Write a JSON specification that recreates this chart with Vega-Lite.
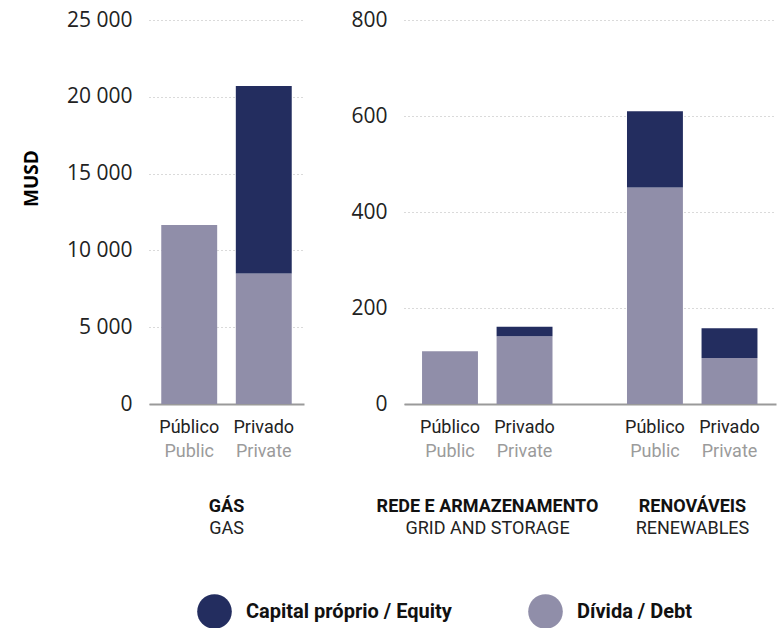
{
  "$schema": "https://vega.github.io/schema/vega-lite/v6.json",
  "background": "white",
  "padding": {"left": 22, "top": 9, "right": 5, "bottom": 0},
  "spacing": 46,
  "config": {
    "view": {"stroke": null},
    "font": "Roboto",
    "axis": {"ticks": false, "domain": false, "grid": false, "labelLimit": 0},
    "legend": {"orient": "none", "labelLimit": 0}
  },
  "datasets": {
    "d": [
      {"sector": "GÁS", "own": "Público", "own_en": "Public", "type": "Dívida / Debt", "value": 11650},
      {"sector": "GÁS", "own": "Privado", "own_en": "Private", "type": "Dívida / Debt", "value": 8500},
      {"sector": "GÁS", "own": "Privado", "own_en": "Private", "type": "Capital próprio / Equity", "value": 12200},
      {"sector": "REDE E ARMAZENAMENTO", "own": "Público", "own_en": "Public", "type": "Dívida / Debt", "value": 110},
      {"sector": "REDE E ARMAZENAMENTO", "own": "Privado", "own_en": "Private", "type": "Dívida / Debt", "value": 141},
      {"sector": "REDE E ARMAZENAMENTO", "own": "Privado", "own_en": "Private", "type": "Capital próprio / Equity", "value": 20},
      {"sector": "RENOVÁVEIS", "own": "Público", "own_en": "Public", "type": "Dívida / Debt", "value": 451},
      {"sector": "RENOVÁVEIS", "own": "Público", "own_en": "Public", "type": "Capital próprio / Equity", "value": 159},
      {"sector": "RENOVÁVEIS", "own": "Privado", "own_en": "Private", "type": "Dívida / Debt", "value": 96},
      {"sector": "RENOVÁVEIS", "own": "Privado", "own_en": "Private", "type": "Capital próprio / Equity", "value": 62}
    ]
  },
  "hconcat": [
    {
      "width": 155,
      "height": 384,
      "data": {"name": "d"},
      "transform": [{"filter": "datum.sector === 'GÁS'"}],
      "resolve": {"axis": {"x": "independent"}},
      "layer": [
        {
          "mark": {"type": "bar"},
          "encoding": {
            "x": {
              "field": "sector", "type": "nominal", "title": null,
              "scale": {"paddingInner": 0, "paddingOuter": 0.094},
              "axis": {"orient": "bottom", "domain": true, "domainColor": "#9a9a9a", "domainWidth": 2, "labelAngle": 0, "labelFont": "Roboto", "labelFontSize": 18, "labelFontWeight": "bold", "labelColor": "#111", "labelBaseline": "alphabetic", "labelPadding": 107}
            },
            "xOffset": {"field": "own", "type": "nominal", "sort": ["Público", "Privado"], "scale": {"paddingInner": 0.25, "paddingOuter": 0}},
            "y": {
              "field": "value", "type": "quantitative", "stack": "zero",
              "scale": {"domain": [0, 25000], "nice": false},
              "axis": {"values": [0, 5000, 10000, 15000, 20000, 25000], "grid": true, "gridDash": [1, 3], "gridColor": "#b5b5b5", "gridWidth": 1, "labelFont": "Open Sans", "labelFontSize": 21, "labelColor": "#222", "labelPadding": 17, "labelExpr": "replace(format(datum.value, ','), ',', ' ')", "title": "MUSD", "titleFont": "Open Sans", "titleFontSize": 19, "titleFontWeight": "bold", "titleColor": "#000", "titleX": -108, "titleY": 158}
            },
            "color": {
              "field": "type", "type": "nominal",
              "scale": {"domain": ["Capital próprio / Equity", "Dívida / Debt"], "range": ["#232d5f", "#908ea9"]},
              "legend": {"title": null, "direction": "horizontal", "legendX": 48, "legendY": 574, "symbolType": "circle", "symbolSize": 1200, "symbolStrokeWidth": 0, "symbolOpacity": 1, "labelFont": "Roboto", "labelFontSize": 20, "labelFontWeight": "bold", "labelColor": "#111", "labelOffset": 14, "columnPadding": 76}
            },
            "order": {"field": "type", "sort": "descending"}
          }
        },
        {
          "transform": [{"filter": "datum.type === 'Dívida / Debt'"}],
          "mark": {"type": "text", "baseline": "alphabetic", "dy": 29, "fontSize": 18, "font": "Roboto", "color": "#222"},
          "encoding": {
            "x": {
              "field": "sector", "type": "nominal", "title": null,
              "axis": {"orient": "bottom", "labelAngle": 0, "labelFont": "Roboto", "labelFontSize": 18, "labelColor": "#222", "labelBaseline": "alphabetic", "labelPadding": 129, "labelExpr": "datum.value === 'GÁS' ? 'GAS' : datum.value === 'RENOVÁVEIS' ? 'RENEWABLES' : 'GRID AND STORAGE'"}
            },
            "xOffset": {"field": "own", "type": "nominal", "sort": ["Público", "Privado"]},
            "y": {"datum": 0},
            "text": {"field": "own"}
          }
        },
        {
          "transform": [{"filter": "datum.type === 'Dívida / Debt'"}],
          "mark": {"type": "text", "baseline": "alphabetic", "dy": 53, "fontSize": 18, "font": "Roboto", "color": "#9b9b9b"},
          "encoding": {
            "x": {"field": "sector", "type": "nominal", "axis": null},
            "xOffset": {"field": "own", "type": "nominal", "sort": ["Público", "Privado"]},
            "y": {"datum": 0},
            "text": {"field": "own_en"}
          }
        }
      ]
    },
    {
      "width": 372,
      "height": 384,
      "data": {"name": "d"},
      "transform": [{"filter": "datum.sector !== 'GÁS'"}],
      "resolve": {"axis": {"x": "independent"}},
      "layer": [
        {
          "mark": {"type": "bar"},
          "encoding": {
            "x": {
              "field": "sector", "type": "nominal", "title": null,
              "sort": ["REDE E ARMAZENAMENTO", "RENOVÁVEIS"],
              "scale": {"paddingInner": 0.361, "paddingOuter": 0.088},
              "axis": {"orient": "bottom", "domain": true, "domainColor": "#9a9a9a", "domainWidth": 2, "labelAngle": 0, "labelFont": "Roboto", "labelFontSize": 18, "labelFontWeight": "bold", "labelColor": "#111", "labelBaseline": "alphabetic", "labelPadding": 107}
            },
            "xOffset": {"field": "own", "type": "nominal", "sort": ["Público", "Privado"], "scale": {"paddingInner": 0.25, "paddingOuter": 0}},
            "y": {
              "field": "value", "type": "quantitative", "stack": "zero",
              "scale": {"domain": [0, 800], "nice": false},
              "axis": {"values": [0, 200, 400, 600, 800], "grid": true, "gridDash": [1, 3], "gridColor": "#b5b5b5", "gridWidth": 1, "labelFont": "Open Sans", "labelFontSize": 21, "labelColor": "#222", "labelPadding": 17, "title": null}
            },
            "color": {
              "field": "type", "type": "nominal",
              "scale": {"domain": ["Capital próprio / Equity", "Dívida / Debt"], "range": ["#232d5f", "#908ea9"]}
            },
            "order": {"field": "type", "sort": "descending"}
          }
        },
        {
          "transform": [{"filter": "datum.type === 'Dívida / Debt'"}],
          "mark": {"type": "text", "baseline": "alphabetic", "dy": 29, "fontSize": 18, "font": "Roboto", "color": "#222"},
          "encoding": {
            "x": {
              "field": "sector", "type": "nominal", "title": null,
              "sort": ["REDE E ARMAZENAMENTO", "RENOVÁVEIS"],
              "axis": {"orient": "bottom", "labelAngle": 0, "labelFont": "Roboto", "labelFontSize": 18, "labelColor": "#222", "labelBaseline": "alphabetic", "labelPadding": 129, "labelExpr": "datum.value === 'GÁS' ? 'GAS' : datum.value === 'RENOVÁVEIS' ? 'RENEWABLES' : 'GRID AND STORAGE'"}
            },
            "xOffset": {"field": "own", "type": "nominal", "sort": ["Público", "Privado"]},
            "y": {"datum": 0},
            "text": {"field": "own"}
          }
        },
        {
          "transform": [{"filter": "datum.type === 'Dívida / Debt'"}],
          "mark": {"type": "text", "baseline": "alphabetic", "dy": 53, "fontSize": 18, "font": "Roboto", "color": "#9b9b9b"},
          "encoding": {
            "x": {"field": "sector", "type": "nominal", "axis": null, "sort": ["REDE E ARMAZENAMENTO", "RENOVÁVEIS"]},
            "xOffset": {"field": "own", "type": "nominal", "sort": ["Público", "Privado"]},
            "y": {"datum": 0},
            "text": {"field": "own_en"}
          }
        }
      ]
    }
  ]
}
